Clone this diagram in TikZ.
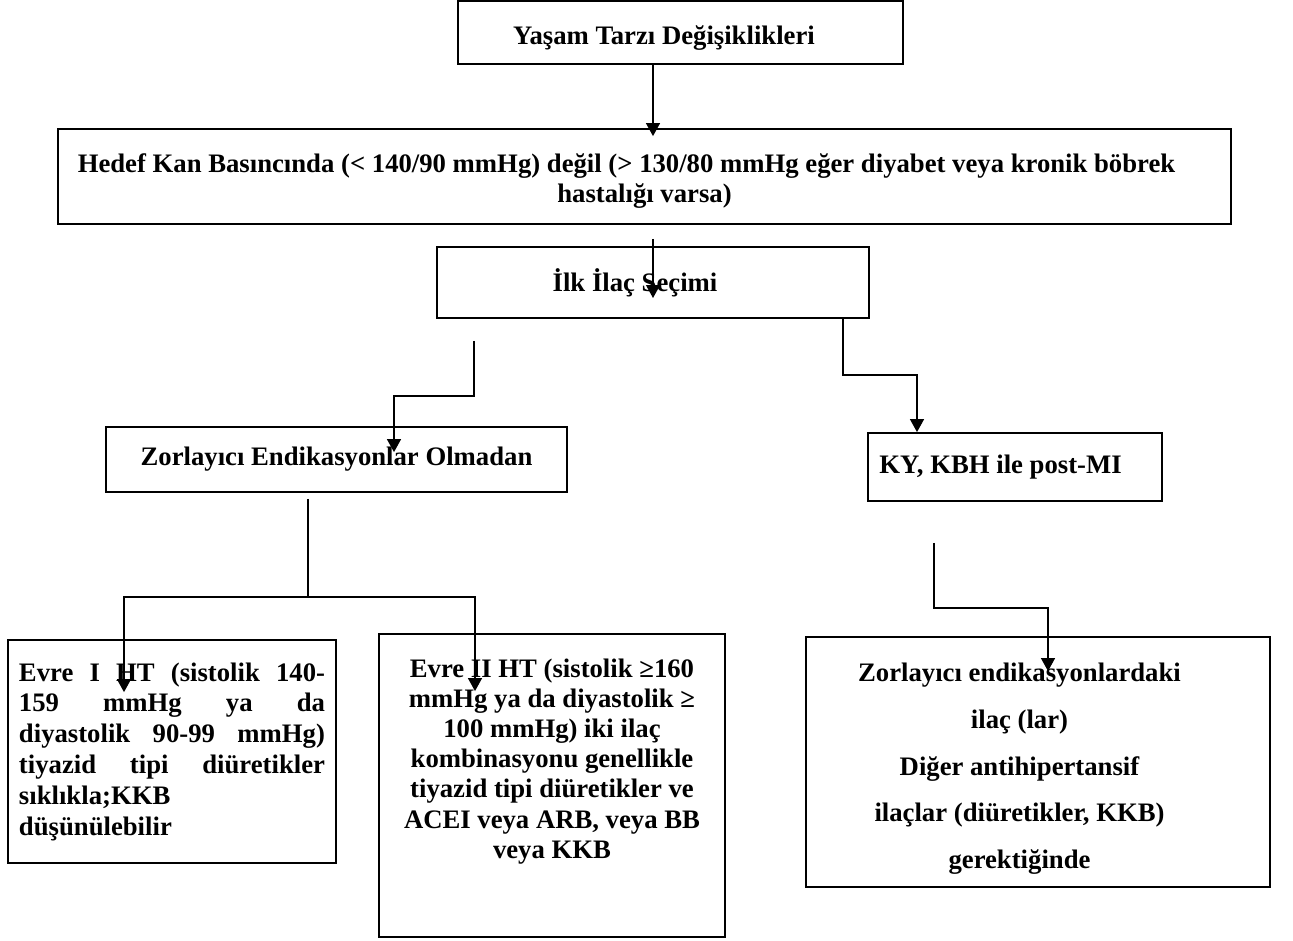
\documentclass[tikz,border=0pt]{standalone}
\usepackage{fontspec}
\setmainfont{Liberation Serif}
\usetikzlibrary{arrows.meta}
\newcommand{\jline}[1]{\makebox[306pt][s]{\spaceskip=0pt\relax #1}}

\begin{document}
\begin{tikzpicture}[x=1pt, y=-1pt, >={Triangle[width=14pt,length=13pt]},
   font=\fontsize{26.7}{30.5}\selectfont\bfseries,
   box/.style={draw, line width=1.8pt, inner sep=0pt, align=flush center},
   conn/.style={->, line width=1.3pt},
   link/.style={line width=1.3pt}]
  \useasboundingbox (0,0) rectangle (1293,940);
  % boxes
  \node[box, minimum width=445pt, minimum height=63pt] (yasam) at (680.5,32.5)
       {\rule{0pt}{29pt}Yaşam Tarzı Değişiklikleri\kern33pt};
  \node[box, minimum width=1173pt, minimum height=95pt, text width=1168pt,
        font=\fontsize{26.7}{30}\selectfont\bfseries] (hedef) at (644.5,176.5)
       {\rule{0pt}{28pt}Hedef Kan Basıncında (< 140/90 mmHg) değil (> 130/80 mmHg eğer diyabet veya kronik böbrek\kern36pt\\
        hastalığı varsa)};
  \node[box, minimum width=432pt, minimum height=71pt] (ilk) at (653,282.5)
       {İlk İlaç Seçimi\kern36pt};
  \node[box, minimum width=461pt, minimum height=65pt] (zorla) at (336.5,459.5)
       {Zorlayıcı Endikasyonlar Olmadan};
  \node[box, minimum width=294pt, minimum height=68pt] (ky) at (1015,467)
       {KY, KBH ile post-MI\kern29pt};
  \node[box, minimum width=328pt, minimum height=223pt, text width=306pt, align=flush left,
        font=\fontsize{26.7}{30.8}\selectfont\bfseries] (evreI) at (172,751.5)
       {\jline{Evre I HT (sistolik 140-}\\
        \jline{159 mmHg ya da}\\
        \jline{diyastolik 90-99 mmHg)}\\
        \jline{tiyazid tipi diüretikler}\\
        sıklıkla;KKB\\
        düşünülebilir};
  \node[box, minimum width=346pt, minimum height=303pt, text width=330pt,
        font=\fontsize{26.7}{30.2}\selectfont\bfseries] (evreII) at (552,785.5)
       {Evre II HT (sistolik ≥160\\
        mmHg ya da diyastolik ≥\\
        100 mmHg) iki ilaç\\
        kombinasyonu genellikle\\
        tiyazid tipi diüretikler ve\\
        ACEI veya ARB, veya BB\\
        veya KKB\rule[-54pt]{0pt}{54pt}};
  \node[box, minimum width=464pt, minimum height=250pt, text width=440pt,
        font=\fontsize{26.7}{46.7}\selectfont\bfseries] (ilaclar) at (1038,762)
       {\rule{0pt}{32pt}Zorlayıcı endikasyonlardaki\kern37pt\\
        ilaç (lar)\kern37pt\\
        Diğer antihipertansif\kern37pt\\
        ilaçlar (diüretikler, KKB)\kern37pt\\
        gerektiğinde\kern37pt};
  % connectors
  \draw[conn] (yasam.south -| ilk.north) -- ([yshift=-8pt]hedef.north -| ilk.north);
  \draw[conn] ([yshift=-14pt]hedef.south -| ilk.north) -- ([yshift=-15.5pt]ilk.center);
  \draw[conn] ([xshift=-179pt,yshift=-22pt]ilk.south) |- ([xshift=57.5pt,yshift=30pt]zorla.north)
     -- ([xshift=57.5pt,yshift=-26pt]zorla.north);
  \draw[conn] ([xshift=190pt]ilk.south) |- ([xshift=-98pt,yshift=57pt]ky.north)
     -- ([xshift=-98pt]ky.north);
  \draw[conn] ([xshift=-81pt,yshift=-41pt]ky.south) |- ([xshift=10pt,yshift=28pt]ilaclar.north)
     -- ([xshift=10pt,yshift=-35pt]ilaclar.north);
  \coordinate (split) at ([xshift=-28.5pt,yshift=-104pt]zorla.south);
  \draw[link] ([xshift=-28.5pt,yshift=-6pt]zorla.south) -- (split);
  \draw[conn] (split) -| ([xshift=-48pt,yshift=-53pt]evreI.north);
  \draw[conn] (split) -| ([xshift=-77pt,yshift=-58pt]evreII.north);
\end{tikzpicture}
\end{document}
